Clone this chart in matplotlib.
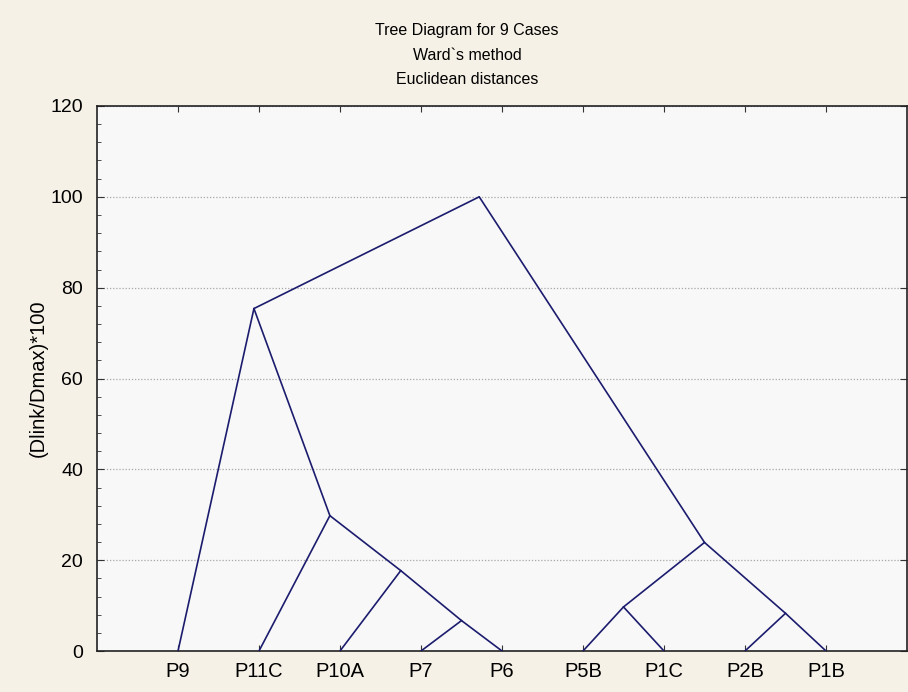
import matplotlib.pyplot as plt
from matplotlib.ticker import MultipleLocator

plt.rcParams['font.family'] = ['Liberation Sans', 'DejaVu Sans']

# cases in drawing order (left to right)
cases = ["P9", "P11C", "P10A", "P7", "P6", "P5B", "P1C", "P2B", "P1B"]

# linkage steps: (left child, right child, linkage distance in %)
# ids 0..8 are the cases, each step creates a new id 9, 10, ...
left_ids = [3, 2, 1, 7, 5, 13, 0, 15]
right_ids = [4, 9, 10, 8, 6, 12, 11, 14]
heights = [6.7, 17.7, 29.8, 8.3, 9.7, 23.9, 75.4, 100.0]

fig = plt.figure(figsize=(9.08, 6.92), dpi=100, facecolor="#f6f1e6")
ax = fig.add_axes([97 / 908, 1 - 651 / 692, 810 / 908, 545 / 692])
ax.set_facecolor("#f8f8f8")

# node positions: leaves sit on the axis, joins sit midway between children
xs = {i: i + 1 for i in range(len(cases))}
ys = {i: 0.0 for i in range(len(cases))}
for k, (a, b, h) in enumerate(zip(left_ids, right_ids, heights)):
    node = len(cases) + k
    xs[node] = (xs[a] + xs[b]) / 2
    ys[node] = h
    for child in (a, b):
        ax.plot([xs[node], xs[child]], [h, ys[child]], color="#1c1c6e", lw=1.2,
                solid_capstyle="round", zorder=3)

ax.set_xlim(0, 10)
ax.set_ylim(0, 120)
ax.set_xticks(range(1, len(cases) + 1))
ax.set_xticklabels(cases, fontsize=14.5)
ax.yaxis.set_major_locator(MultipleLocator(20))
ax.yaxis.set_minor_locator(MultipleLocator(4))
ax.tick_params(axis="y", which="major", direction="in", length=5, labelsize=14,
               right=True, pad=10, color="#333333")
ax.tick_params(axis="y", which="minor", direction="in", length=3, right=False,
               color="#333333")
ax.tick_params(axis="x", direction="in", length=4, top=True, pad=8,
               color="#333333")
ax.grid(axis="y", linestyle=(0, (1, 1.5)), color="#a8a8a8", lw=0.9)
for side in ax.spines.values():
    side.set_color("#222222")
    side.set_linewidth(1.2)

ax.set_ylabel("(Dlink/Dmax)*100", fontsize=14.5, labelpad=2)

title = ["Tree Diagram for 9 Cases", "Ward`s method", "Euclidean distances"]
for i, line in enumerate(title):
    fig.text(467 / 908, 1 - (30 + 25 * i) / 692, line, ha="center", va="center",
             fontsize=11.5)

fig.savefig("out.png", dpi=100, facecolor=fig.get_facecolor())
